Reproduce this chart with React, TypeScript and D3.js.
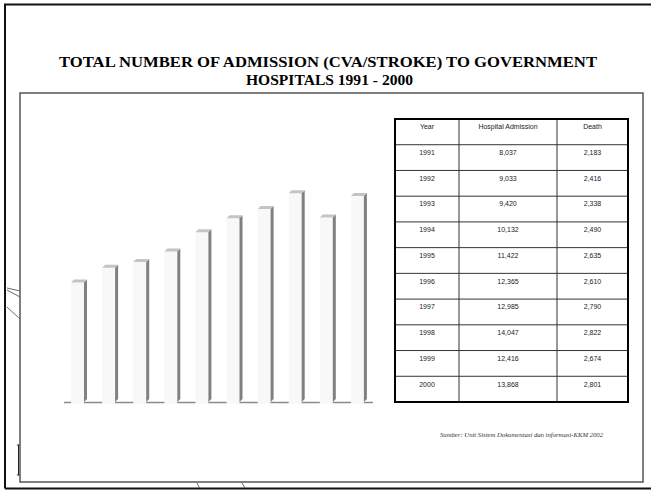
import React from "react";
import * as d3 from "d3";

const years = ["1991", "1992", "1993", "1994", "1995", "1996", "1997", "1998", "1999", "2000"];
const admissions = [8037, 9033, 9420, 10132, 11422, 12365, 12985, 14047, 12416, 13868];
const deaths = [2183, 2416, 2338, 2490, 2635, 2610, 2790, 2822, 2674, 2801];
const tableHeaders = ["Year", "Hospital Admission", "Death"];
const titleLines = ["TOTAL NUMBER OF ADMISSION (CVA/STROKE) TO GOVERNMENT", "HOSPITALS 1991 - 2000"];
const sourceText = "Sumber: Unit Sistem Dokumentasi dan informasi-KKM 2002";

const W = 651;
const H = 490;

export default function App() {
  const base = 402;
  const depth = 3;
  const x = d3
    .scaleBand<string>()
    .domain(years)
    .range([64, 370.9])
    .paddingInner(0.582)
    .paddingOuter(0.225);
  const y = d3.scaleLinear().domain([0, 14000]).range([base, base - 208]);
  const bw = x.bandwidth();

  const fmt = d3.format(",");
  const colX = [395, 459, 557, 628];
  const nRows = years.length + 1;
  const rowY = d3.scaleLinear().domain([0, nRows]).range([119, 402]);
  const rows: string[][] = [tableHeaders, ...years.map((yr, i) => [yr, fmt(admissions[i]), fmt(deaths[i])])];

  return (
    <svg
      width={W}
      height={H}
      viewBox={`0 0 ${W} ${H}`}
      style={{ position: "absolute", left: 0, top: 0, background: "#fff" }}
    >
      <rect x={0} y={0} width={W} height={H} fill="#fff" />
      {/* outer slide frame */}
      <path d={`M5,${H - 1.5} L5,4.5 L${W},4.5`} fill="none" stroke="#111" strokeWidth={2} />
      <line x1={5} y1={488.5} x2={W} y2={488.5} stroke="#111" strokeWidth={2} />
      {/* background decorations */}
      <line x1={7} y1={288} x2={20} y2={291} stroke="#444" strokeWidth={0.8} />
      <line x1={7} y1={290} x2={20} y2={297} stroke="#444" strokeWidth={0.8} />
      <line x1={7} y1={307} x2={20} y2={319} stroke="#444" strokeWidth={0.8} />
      <line x1={197} y1={483} x2={199.5} y2={488} stroke="#444" strokeWidth={0.8} />
      <line x1={242} y1={483} x2={245} y2={488} stroke="#444" strokeWidth={0.8} />
      <path d="M18.5,445 L18.5,475 M17,445 L20,445 M17,475 L20,475" fill="none" stroke="#222" strokeWidth={1} />

      {/* title */}
      <g fontFamily="'Liberation Serif', 'Times New Roman', serif" fontWeight="bold" fill="#000" textAnchor="middle">
        <text x={328} y={67} fontSize={15} textLength={538} lengthAdjust="spacingAndGlyphs">
          {titleLines[0]}
        </text>
        <text x={329.5} y={85} fontSize={15} textLength={167} lengthAdjust="spacingAndGlyphs">
          {titleLines[1]}
        </text>
      </g>

      {/* inner chart box */}
      <rect x={20} y={93} width={623} height={389} fill="none" stroke="#555" strokeWidth={1.5} />

      {/* floor line */}
      <line x1={64} y1={402.5} x2={373} y2={402.5} stroke="#8a8a8a" strokeWidth={1.5} />

      {/* 3D bars */}
      {years.map((yr, i) => {
        const x0 = x(yr) as number;
        const top = y(admissions[i]);
        return (
          <g key={yr}>
            <rect x={x0} y={top} width={bw} height={base - top + 2} fill="#f8f8f8" />
            <path
              d={`M${x0 + bw},${top} L${x0 + bw + depth},${top - depth} L${x0 + bw + depth},${base - depth} L${x0 + bw},${base} Z`}
              fill="#808080"
            />
            <path
              d={`M${x0},${top} L${x0 + depth},${top - depth} L${x0 + bw + depth},${top - depth} L${x0 + bw},${top} Z`}
              fill="#c4c4c4"
            />
          </g>
        );
      })}

      {/* table */}
      <g>
        {d3.range(1, nRows).map((r) => (
          <line key={"r" + r} x1={colX[0]} x2={colX[3]} y1={rowY(r)} y2={rowY(r)} stroke="#333" strokeWidth={1} />
        ))}
        {[1, 2].map((c) => (
          <line key={"c" + c} x1={colX[c]} x2={colX[c]} y1={rowY(0)} y2={rowY(nRows)} stroke="#333" strokeWidth={1} />
        ))}
        <rect
          x={colX[0]}
          y={rowY(0)}
          width={colX[3] - colX[0]}
          height={rowY(nRows) - rowY(0)}
          fill="none"
          stroke="#000"
          strokeWidth={2}
        />
        <g fontFamily="'Liberation Sans', Arial, sans-serif" fontSize={7} fill="#222" textAnchor="middle">
          {rows.map((row, r) =>
            row.map((cell, c) => (
              <text key={r + "-" + c} x={(colX[c] + colX[c + 1]) / 2} y={rowY(r) + 10.3}>
                {cell}
              </text>
            ))
          )}
        </g>
      </g>

      {/* source */}
      <text
        x={521.5}
        y={437.3}
        textAnchor="middle"
        fontFamily="'Liberation Serif', 'Times New Roman', serif"
        fontStyle="italic"
        fontSize={7}
        fill="#333"
        textLength={163}
        lengthAdjust="spacingAndGlyphs"
      >
        {sourceText}
      </text>
    </svg>
  );
}
